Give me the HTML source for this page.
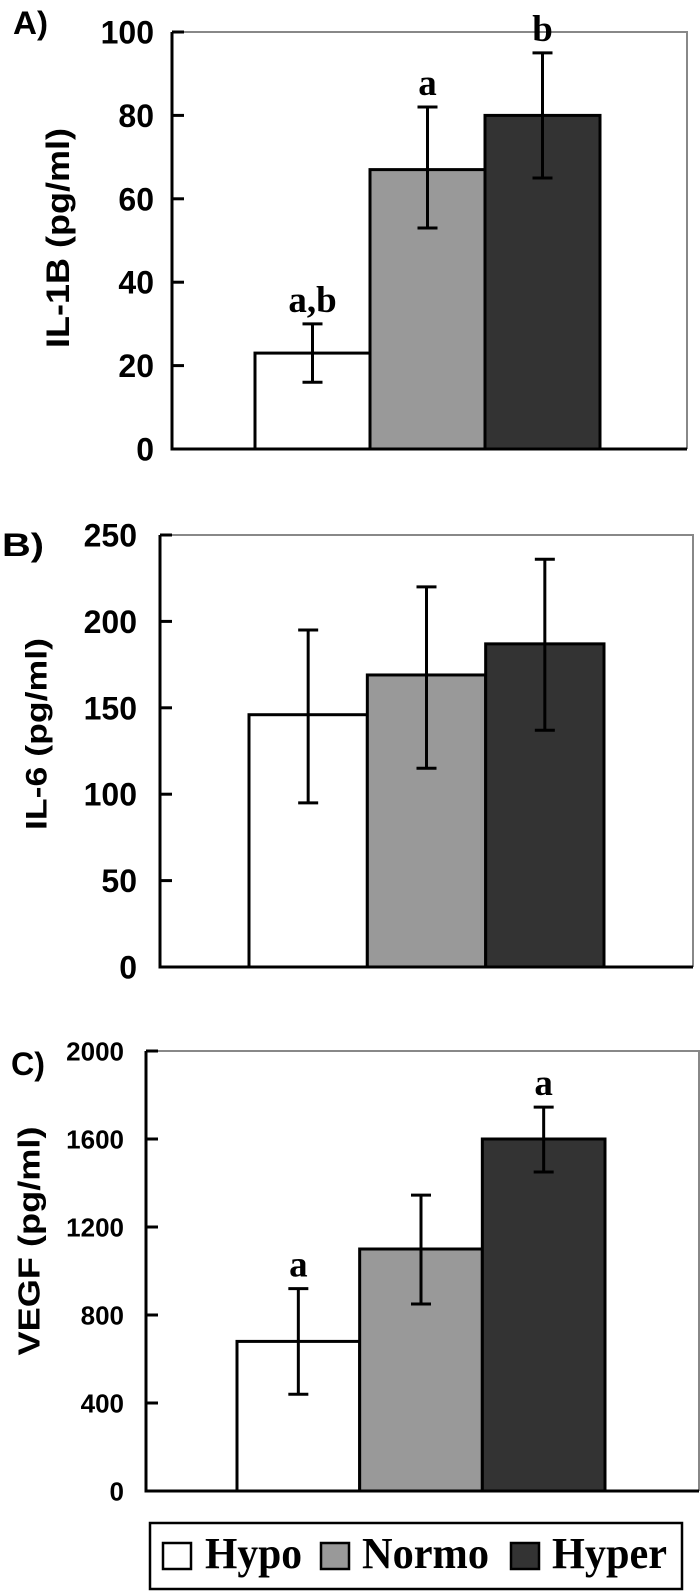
<!DOCTYPE html>
<html><head><meta charset="utf-8"><style>
html,body{margin:0;padding:0;background:#fff;}
svg{display:block;}
.tk{font-family:"Liberation Sans",sans-serif;font-weight:bold;}
.sig{font-family:"Liberation Serif",serif;font-weight:bold;}
</style></head><body>
<svg id="chart" width="700" height="1591" viewBox="0 0 700 1591" xmlns="http://www.w3.org/2000/svg"></svg>
<script>
// ---- data ----
const groups = ["Hypo", "Normo", "Hyper"];
const groupColors = ["#ffffff", "#999999", "#333333"];
const il1bMeans = [23, 67, 80];
const il1bErrLo = [16, 53, 65];
const il1bErrHi = [30, 82, 95];
const il1bSig = ["a,b", "a", "b"];
const il1bTicks = [0, 20, 40, 60, 80, 100];
const il6Means = [146, 169, 187];
const il6ErrLo = [95, 115, 137];
const il6ErrHi = [195, 220, 236];
const il6Sig = ["", "", ""];
const il6Ticks = [0, 50, 100, 150, 200, 250];
const vegfMeans = [680, 1100, 1600];
const vegfErrLo = [440, 850, 1450];
const vegfErrHi = [920, 1345, 1745];
const vegfSig = ["a", "", "a"];
const vegfTicks = [0, 400, 800, 1200, 1600, 2000];

const NS = "http://www.w3.org/2000/svg";
const svg = document.getElementById("chart");
function mk(tag, attrs, parent, text) {
  const e = document.createElementNS(NS, tag);
  for (const k in attrs) e.setAttribute(k, attrs[k]);
  if (text !== undefined) e.textContent = text;
  (parent || svg).appendChild(e);
  return e;
}

function panel(cfg) {
  const g = mk("g", {});
  
  
  const yMax = cfg.ticks[cfg.ticks.length - 1];
  const y = v => cfg.bottom - (v / yMax) * (cfg.bottom - cfg.top);
  const bw = (cfg.barsRight - cfg.barsLeft) / cfg.means.length;
  const x = i => cfg.barsLeft + i * bw;
  const fr = mk("path", {d:`M${cfg.left} ${cfg.top} H${cfg.right} V${cfg.bottom}`, fill:"none", stroke:"#888", "stroke-width":2}, g);
  
  
  cfg.means.forEach((m, i) => {
    const r = mk("rect", {x:x(i), y:y(m), width:bw, height:y(0)-y(m), fill:groupColors[i], stroke:"#000", "stroke-width":3}, g);
    
    
  });
  cfg.means.forEach((m, i) => {
    const cx = x(i) + bw / 2;
    const e = mk("path", {d:`M${cx} ${y(cfg.lo[i])} V${y(cfg.hi[i])} M${cx-10} ${y(cfg.lo[i])} H${cx+10} M${cx-10} ${y(cfg.hi[i])} H${cx+10}`, stroke:"#000", "stroke-width":3, fill:"none"}, g);
    
    
    if (cfg.sig[i]) {
      const s = mk("text", {x:cx, y:y(cfg.hi[i]) - 12, "text-anchor":"middle", class:"sig", "font-size":37}, g, cfg.sig[i]);
      
      
    }
  });
  const ax = mk("path", {d:`M${cfg.left} ${cfg.top} V${cfg.bottom} H${cfg.right}`, fill:"none", stroke:"#000", "stroke-width":3}, g);
  
  
  cfg.ticks.forEach(t => {
    const tl = mk("line", {x1:cfg.left, x2:cfg.left+12, y1:y(t), y2:y(t), stroke:"#000", "stroke-width":3}, g);
    
    
    const tx = mk("text", {x:cfg.left-cfg.gap, y:y(t)+cfg.tfs*0.36, "text-anchor":"end", class:"tk", "font-size":cfg.tfs}, g, String(t));
    
    
  });
  const yt = mk("text", {x:0, y:0, transform:`translate(${cfg.titleX},${cfg.titleY}) rotate(-90)`, "text-anchor":"middle", class:"tk", "font-size":cfg.titleFs, textLength:cfg.titleLen, lengthAdjust:"spacingAndGlyphs", "dominant-baseline":"central"}, g, cfg.title);
  
  
  const pl = mk("text", {x:cfg.plX, y:cfg.plY, class:"tk", "font-size":32, textLength:cfg.plW, lengthAdjust:"spacingAndGlyphs"}, g, cfg.panelLabel);
  
  
}

panel({name:"panel-a-il1b", left:172, right:687, top:32, bottom:449, barsLeft:255, barsRight:600,
  means:il1bMeans, lo:il1bErrLo, hi:il1bErrHi, sig:il1bSig, ticks:il1bTicks, tfs:32, gap:18,
  title:"IL-1B (pg/ml)", titleX:58, titleY:238, titleFs:32, titleLen:220, panelLabel:"A)", plX:13, plY:34, plW:35});
panel({name:"panel-b-il6", left:160, right:693, top:535, bottom:967, barsLeft:249, barsRight:604,
  means:il6Means, lo:il6ErrLo, hi:il6ErrHi, sig:il6Sig, ticks:il6Ticks, tfs:32, gap:23,
  title:"IL-6 (pg/ml)", titleX:37, titleY:734, titleFs:30, titleLen:192, panelLabel:"B)", plX:2, plY:556, plW:42});
panel({name:"panel-c-vegf", left:146, right:699, top:1051, bottom:1491, barsLeft:237, barsRight:605,
  means:vegfMeans, lo:vegfErrLo, hi:vegfErrHi, sig:vegfSig, ticks:vegfTicks, tfs:26, gap:22,
  title:"VEGF (pg/ml)", titleX:29, titleY:1241, titleFs:31, titleLen:229, panelLabel:"C)", plX:11, plY:1075, plW:34});

const lg = mk("g", {});


const lb = mk("rect", {x:150, y:1523, width:532, height:66, fill:"#fff", stroke:"#000", "stroke-width":2.5}, lg);


const legSwX = [163, 321, 511];
const legTxX = [205, 362, 552];
const legTxW = [97, 127, 115];
groups.forEach((gname, i) => {
  const sw = mk("rect", {x:legSwX[i], y:1543, width:28, height:26, fill:groupColors[i], stroke:"#000", "stroke-width":2.5}, lg);
  
  
  const t = mk("text", {x:legTxX[i], y:1568, class:"sig", "font-size":44, textLength:legTxW[i], lengthAdjust:"spacingAndGlyphs"}, lg, gname);
  
  
});
</script>
</body></html>
